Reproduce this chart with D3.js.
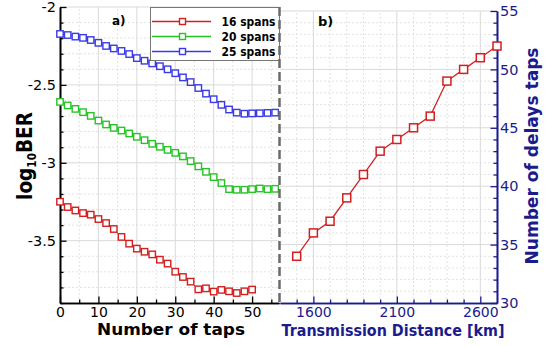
<!DOCTYPE html>
<html>
<head>
<meta charset="utf-8">
<script src="https://cdn.jsdelivr.net/npm/d3@7"></script>
<style>
body { margin: 0; background: #fff; }
svg { display: block; }
text { font-family: "DejaVu Sans", sans-serif; }
</style>
</head>
<body>
<div id="chart"></div>
<script>
// panel a) : BER versus number of taps
var taps = [0, 2, 4, 6, 8, 10, 12, 14, 16, 18, 20, 22, 24, 26, 28, 30, 32, 34, 36, 38, 40, 42, 44, 46, 48, 50, 52, 54, 56];
var ber16 = [-3.250, -3.284, -3.306, -3.323, -3.333, -3.361, -3.387, -3.425, -3.476, -3.519, -3.551, -3.571, -3.588,
	-3.622, -3.647, -3.699, -3.733, -3.763, -3.812, -3.806, -3.827, -3.816, -3.825, -3.836, -3.825, -3.814];
var ber20 = [-2.609, -2.632, -2.654, -2.675, -2.699, -2.729, -2.754, -2.776, -2.793, -2.812, -2.833, -2.855, -2.878,
	-2.897, -2.917, -2.936, -2.959, -2.989, -3.023, -3.058, -3.092, -3.130, -3.169, -3.173, -3.173, -3.169, -3.165, -3.169, -3.167];
var ber25 = [-2.173, -2.180, -2.190, -2.198, -2.212, -2.230, -2.250, -2.266, -2.282, -2.302, -2.328, -2.345, -2.362,
	-2.380, -2.400, -2.425, -2.452, -2.482, -2.520, -2.556, -2.592, -2.628, -2.658, -2.678, -2.685, -2.683, -2.682, -2.680, -2.678];
var spanNames = ["16 spans", "20 spans", "25 spans"];

// panel b) : number of delay taps versus distance
var distance = [1500, 1600, 1700, 1800, 1900, 2000, 2100, 2200, 2300, 2400, 2500, 2600, 2700];
var delayTaps = [34, 36, 37, 39, 41, 43, 44, 45, 46, 49, 50, 51, 52];

// tick labels
var berTicks = [-2, -2.5, -3, -3.5];
var tapTicks = [0, 10, 20, 30, 40, 50];
var distTicks = [1600, 2100, 2600];
var delayTicks = [30, 35, 40, 45, 50, 55];

var colors = ["#d21f1f", "#27c427", "#3a3ae6"];
var navy = "#1b1b8c";

var svg = d3.select("#chart").append("svg")
	.attr("width", 550)
	.attr("height", 347);

var x1 = d3.scaleLinear().domain([0, 57]).range([60, 279]);
var y1 = d3.scaleLinear().domain([-3.9, -2]).range([303, 7]);
var x2 = d3.scaleLinear().domain([1400, 2700]).range([280, 497]);
var y2 = d3.scaleLinear().domain([30, 55]).range([303, 11]);

// grids
function grid(g, xs, ys, xv, yv, dotted) {
	g.selectAll("line.v").data(xv).enter().append("line")
		.attr("x1", d => xs(d)).attr("x2", d => xs(d))
		.attr("y1", ys.range()[0]).attr("y2", ys.range()[1]);
	g.selectAll("line.h").data(yv).enter().append("line")
		.attr("y1", d => ys(d)).attr("y2", d => ys(d))
		.attr("x1", xs.range()[0]).attr("x2", xs.range()[1]);
	g.selectAll("line")
		.attr("stroke", dotted ? "#e2e2e2" : "#d9d9d9")
		.attr("stroke-width", 1)
		.attr("stroke-dasharray", dotted ? "2,2" : null);
}
var tapMinor = [5, 15, 25, 35, 45, 55];
var berMinor = [];
for (var b = -39; b <= -21; b++) if (b % 5 != 0) berMinor.push(b / 10);
var distMinor = [1500, 1700, 1800, 1900, 2000, 2200, 2300, 2400, 2500, 2700];
var delayMinor = [];
for (var k = 31; k < 55; k++) if (k % 5 != 0) delayMinor.push(k);

grid(svg.append("g"), x1, y1, tapMinor, berMinor, true);
grid(svg.append("g"), x1, y1, tapTicks.slice(1), berTicks, false);
grid(svg.append("g"), x2, y2, distMinor, delayMinor, true);
grid(svg.append("g"), x2, y2, distTicks, delayTicks.slice(1), false);

// axes
function styleAxis(g, color, fs) {
	g.select(".domain").attr("stroke", color).attr("stroke-width", 1.6);
	g.selectAll(".tick line").attr("stroke", color).attr("stroke-width", 1.3);
	g.selectAll(".tick text").attr("fill", color).style("font-size", fs + "px")
		.style("font-family", "'DejaVu Sans', sans-serif");
}

// left y
svg.append("g").attr("transform", "translate(60,0)")
	.call(d3.axisLeft(y1).tickValues(berMinor).tickSizeInner(-3.5).tickSizeOuter(0).tickFormat(""))
	.call(g => styleAxis(g, "#000", 14.5));
svg.append("g").attr("transform", "translate(60,0)")
	.call(d3.axisLeft(y1).tickValues(berTicks).tickSizeInner(-6.5).tickSizeOuter(0).tickPadding(4).tickFormat(d => String(d)))
	.call(g => styleAxis(g, "#000", 14.5));

// left x
svg.append("g").attr("transform", "translate(0,303)")
	.call(d3.axisBottom(x1).tickValues(tapMinor).tickSizeInner(-3.5).tickSizeOuter(0).tickFormat(""))
	.call(g => styleAxis(g, "#000", 14));
svg.append("g").attr("transform", "translate(0,303)")
	.call(d3.axisBottom(x1).tickValues(tapTicks).tickSizeInner(-6.5).tickSizeOuter(0).tickPadding(4).tickFormat(d => String(d)))
	.call(g => styleAxis(g, "#000", 14));

// right x
svg.append("g").attr("transform", "translate(0,303)")
	.call(d3.axisBottom(x2).tickValues(distMinor.slice(0, 9)).tickSizeInner(-3.5).tickSizeOuter(0).tickFormat(""))
	.call(g => styleAxis(g, navy, 14));
svg.append("g").attr("transform", "translate(0,303)")
	.call(d3.axisBottom(x2).tickValues(distTicks).tickSizeInner(-6.5).tickSizeOuter(0).tickPadding(4).tickFormat(d => String(d)))
	.call(g => styleAxis(g, navy, 14));

// right y
svg.append("g").attr("transform", "translate(497,0)")
	.call(d3.axisRight(y2).tickValues(delayMinor).tickSizeInner(-3.5).tickSizeOuter(0).tickFormat(""))
	.call(g => styleAxis(g, navy, 14.5));
svg.append("g").attr("transform", "translate(497,0)")
	.call(d3.axisRight(y2).tickValues(delayTicks).tickSizeInner(-6.5).tickSizeOuter(0).tickPadding(3).tickFormat(d => String(d)))
	.call(g => styleAxis(g, navy, 14.5));

// panel a) series
var berSeries = [ber16, ber20, ber25];
berSeries.forEach(function(vals, i) {
	var pts = vals.map((v, j) => ({x: taps[j], y: v}));
	svg.append("path")
		.datum(pts)
		.attr("fill", "none")
		.attr("stroke", colors[i])
		.attr("stroke-width", 1)
		.attr("d", d3.line().x(d => x1(d.x)).y(d => y1(d.y)));
	svg.append("g").selectAll("rect")
		.data(pts)
		.enter().append("rect")
		.attr("x", d => x1(d.x) - 3.2)
		.attr("y", d => y1(d.y) - 3.2)
		.attr("width", 6.4)
		.attr("height", 6.4)
		.attr("fill", "#fff")
		.attr("stroke", colors[i])
		.attr("stroke-width", 1.4);
});

// panel b) series
var distPts = distance.map((d, j) => ({x: d, y: delayTaps[j]}));
svg.append("path")
	.datum(distPts)
	.attr("fill", "none")
	.attr("stroke", colors[0])
	.attr("stroke-width", 1.3)
	.attr("d", d3.line().x(d => x2(d.x)).y(d => y2(d.y)));
svg.append("g").selectAll("rect")
	.data(distPts)
	.enter().append("rect")
	.attr("x", d => x2(d.x) - 4)
	.attr("y", d => y2(d.y) - 4)
	.attr("width", 8)
	.attr("height", 8)
	.attr("fill", "#fff")
	.attr("stroke", colors[0])
	.attr("stroke-width", 1.5);

// legend
var legend = svg.append("g").attr("class", "legend");
legend.append("rect")
	.attr("x", 150.5).attr("y", 7.5)
	.attr("width", 129).attr("height", 53)
	.attr("fill", "#fff")
	.attr("stroke", "#777")
	.attr("stroke-width", 1);
spanNames.forEach(function(name, i) {
	var ly = 21.5 + i * 15;
	legend.append("line")
		.attr("x1", 152).attr("x2", 211)
		.attr("y1", ly).attr("y2", ly)
		.attr("stroke", colors[i]).attr("stroke-width", 1.3);
	legend.append("rect")
		.attr("x", 179.5).attr("y", ly - 3)
		.attr("width", 6).attr("height", 6)
		.attr("fill", "#fff").attr("stroke", colors[i]).attr("stroke-width", 1.4);
	legend.append("text")
		.attr("x", 221.5).attr("y", ly + 4.5)
		.attr("font-size", 12)
		.attr("font-weight", "bold")
		.attr("textLength", 54)
		.attr("lengthAdjust", "spacingAndGlyphs")
		.text(name);
});

// dashed separator
svg.append("line")
	.attr("x1", 279.5).attr("x2", 279.5)
	.attr("y1", 7).attr("y2", 303)
	.attr("stroke", "#6b6b6b")
	.attr("stroke-width", 2.5)
	.attr("stroke-dasharray", "9,4");

// panel tags
svg.append("text").attr("x", 112).attr("y", 25)
	.attr("font-size", 12).attr("font-weight", "bold").text("a)");
svg.append("text").attr("x", 318).attr("y", 26)
	.attr("font-size", 13).attr("font-weight", "bold").text("b)");

// axis titles
svg.append("text")
	.attr("x", 171).attr("y", 335)
	.attr("text-anchor", "middle")
	.attr("font-size", 16.5).attr("font-weight", "bold")
	.attr("textLength", 148).attr("lengthAdjust", "spacingAndGlyphs")
	.text("Number of taps");

svg.append("text")
	.attr("x", 393).attr("y", 336)
	.attr("text-anchor", "middle")
	.attr("font-size", 16).attr("font-weight", "bold")
	.attr("fill", navy)
	.attr("textLength", 223).attr("lengthAdjust", "spacingAndGlyphs")
	.text("Transmission Distance [km]");

var yl = svg.append("text")
	.attr("transform", "translate(32,156) rotate(-90) scale(0.88,1)")
	.attr("text-anchor", "middle")
	.attr("font-size", 21).attr("font-weight", "bold");
yl.append("tspan").text("log");
yl.append("tspan").attr("font-size", 12).attr("dy", 4).text("10");
yl.append("tspan").attr("dy", -4).text("BER");

svg.append("text")
	.attr("transform", "translate(538,156) rotate(-90)")
	.attr("text-anchor", "middle")
	.attr("font-size", 17.5).attr("font-weight", "bold")
	.attr("fill", navy)
	.attr("textLength", 217).attr("lengthAdjust", "spacingAndGlyphs")
	.text("Number of delays taps");
</script>
</body>
</html>
